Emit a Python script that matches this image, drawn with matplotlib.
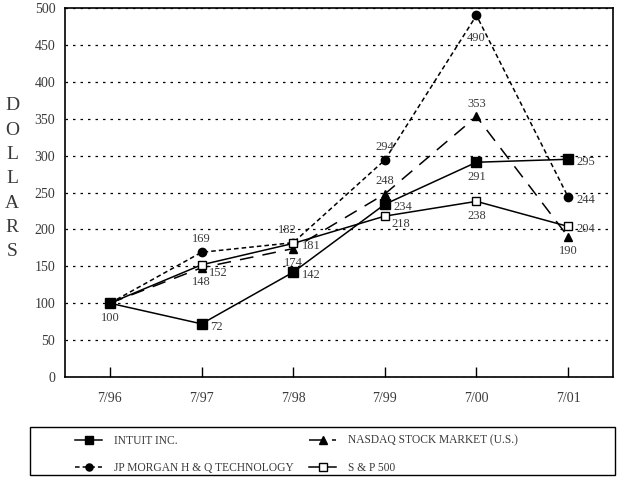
import matplotlib.pyplot as plt
from matplotlib.patches import Rectangle

plt.rcParams["font.family"] = ["Liberation Serif", "DejaVu Serif"]

periods = ["7/96", "7/97", "7/98", "7/99", "7/00", "7/01"]
intuit = [100, 72, 142, 234, 291, 295]
nasdaq = [100, 148, 174, 248, 353, 190]
jpmorgan = [100, 169, 182, 294, 490, 244]
sp500 = [100, 152, 181, 218, 238, 204]

# where each value label sits relative to its point
intuit_pos = [None, "r", "r", "r", "b", "r"]
nasdaq_pos = [None, "b", "b", "t", "t", "b"]
jp_pos = ["b", "t", "tl", "t", "bb", "r"]
sp_pos = [None, "rb", "r", "rb", "b", "r"]

text_col = "#3a3a3a"

fig = plt.figure(figsize=(6.19, 4.79), dpi=100)
ax = fig.add_axes([65 / 619, 1 - 377 / 479, 548 / 619, 369 / 479])

x = list(range(len(periods)))
l_jp, = ax.plot(x, jpmorgan, color="black", lw=1.1, ls=(0, (3, 2)), marker="o",
                ms=6, mfc="black", label="JP MORGAN H & Q TECHNOLOGY")
l_nq, = ax.plot(x, nasdaq, color="black", lw=1.1, ls=(0, (9, 6)), marker="^",
                ms=6, mfc="black", label="NASDAQ STOCK MARKET (U.S.)")
l_sp, = ax.plot(x, sp500, color="black", lw=1.1, marker="s", ms=6.3,
                mfc="white", label="S & P 500")
l_in, = ax.plot(x, intuit, color="black", lw=1.1, marker="s", ms=6.5,
                mfc="black", label="INTUIT INC.")

offsets = {
    "r": ((6, -2), "left", "center"),
    "rb": ((5, -6), "left", "center"),
    "b": ((0, -6), "center", "top"),
    "bb": ((0, -12), "center", "top"),
    "t": ((0, 5), "center", "bottom"),
    "tl": ((-4, 5), "center", "bottom"),
}
for vals, pos in [(intuit, intuit_pos), (nasdaq, nasdaq_pos),
                  (jpmorgan, jp_pos), (sp500, sp_pos)]:
    for i, (v, p) in enumerate(zip(vals, pos)):
        if p is None:
            continue
        (dx, dy), ha, va = offsets[p]
        ax.annotate(str(v), (i, v), xytext=(dx, dy), textcoords="offset points",
                    ha=ha, va=va, fontsize=9, color=text_col)

ax.set_xlim(-0.49, 5.49)
ax.set_ylim(0, 500)
ax.set_xticks(x)
ax.set_xticklabels(periods)
ax.set_yticks(range(0, 501, 50))
ax.tick_params(axis="x", direction="in", length=7, pad=11, labelsize=10,
               labelcolor=text_col, width=1)
ax.tick_params(axis="y", length=0, pad=7, labelsize=10, labelcolor=text_col)
ax.grid(axis="y", color="black", ls=(0, (2, 4)), lw=0.9)
for s in ax.spines.values():
    s.set_linewidth(1.2)

for i, ch in enumerate("DOLLARS"):
    fig.text(12 / 619, 1 - (106 + i * 24.3) / 479, ch, fontsize=14,
             color=text_col, ha="center", va="center")

# legend box
fig.patches.append(Rectangle((30 / 619, 4 / 479), 585 / 619, 48 / 479,
                             transform=fig.transFigure, fill=False,
                             edgecolor="black", lw=1))
fig.legend([l_in, l_jp, l_nq, l_sp],
           [l.get_label() for l in [l_in, l_jp, l_nq, l_sp]],
           loc="upper left", bbox_to_anchor=(69 / 619, 1 - 429 / 479), ncol=2,
           frameon=False, fontsize=8.3, handlelength=2.4, handletextpad=1.0,
           columnspacing=1.3, labelspacing=1.3, borderpad=0,
           labelcolor=text_col, markerscale=0.85)

fig.savefig("out.png", dpi=100)
